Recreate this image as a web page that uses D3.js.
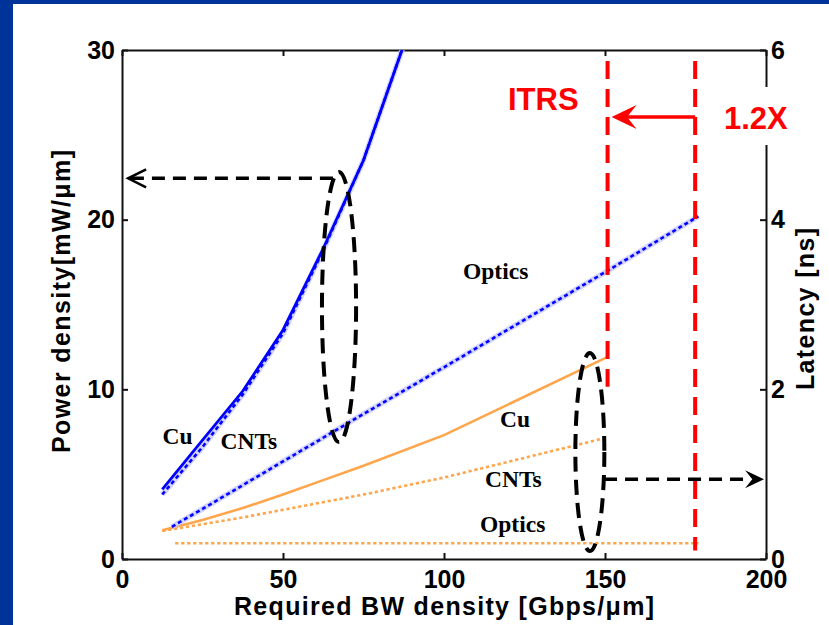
<!DOCTYPE html>
<html>
<head>
<meta charset="utf-8">
<script src="https://cdn.jsdelivr.net/npm/d3@7"></script>
<style>
  html, body { margin: 0; padding: 0; background: #fff; }
  svg { display: block; }
</style>
</head>
<body>
<svg id="chart" width="829" height="625"></svg>
<script>
// ---- data -------------------------------------------------------------
// Power density (left axis, mW/um) versus required bandwidth density (Gbps/um)
const bwPower      = [12.5, 25, 37.5, 50, 62.5, 75, 87.5];
const powerCu      = [4.1, 7.0, 9.9, 13.5, 18.3, 23.5, 30.3];
const powerCNT     = [3.8, 6.6, 9.7, 13.3, 18.2, 23.5, 30.3];
const bwPowerOpt   = [15.5, 25, 50, 75, 100, 125, 150, 179];
const powerOptics  = [1.9, 2.95, 5.75, 8.55, 11.3, 14.1, 16.9, 20.2];

// Latency (right axis, ns)
const bwLatency    = [12.5, 25, 37.5, 50, 62.5, 75, 100, 151];
const latencyCu    = [0.34, 0.46, 0.60, 0.76, 0.93, 1.10, 1.46, 2.385];
const latencyCNT   = [0.33, 0.41, 0.49, 0.58, 0.67, 0.76, 0.96, 1.435];
const bwLatencyOpt = [16.5, 179];
const latencyOpt   = [0.185, 0.185];

// Axis ticks
const xTicks  = [0, 50, 100, 150, 200];
const yLTicks = [0, 10, 20, 30];
const yRTicks = [0, 2, 4, 6];

// Bandwidth markers
const itrsBW   = 150.8;
const scaledBW = 178;

// ---- layout -----------------------------------------------------------
const svg = d3.select("#chart");
const W = 829, H = 625;
const plot = { left: 122, right: 766, top: 50, bottom: 559 };

const x  = d3.scaleLinear().domain([0, 200]).range([plot.left, plot.right]);
const yL = d3.scaleLinear().domain([0, 30]).range([plot.bottom, plot.top]);
const yR = d3.scaleLinear().domain([0, 6]).range([plot.bottom, plot.top]);

const BLUE = "#0000ff", ORANGE = "#ffa64d", RED = "#ff0000";
const SANS = "'Liberation Sans', Arial, Helvetica, sans-serif";
const SERIF = "'Liberation Serif', 'Times New Roman', serif";
const intFmt = d3.format("d");

// slide frame
svg.append("rect").attr("width", W).attr("height", H).attr("fill", "#fff");
svg.append("rect").attr("width", W).attr("height", 4).attr("fill", "#00339a");
svg.append("rect").attr("width", 13).attr("height", H).attr("fill", "#00339a");

svg.append("clipPath").attr("id", "plotClip").append("rect")
  .attr("x", plot.left).attr("y", plot.top)
  .attr("width", plot.right - plot.left).attr("height", plot.bottom - plot.top);

// ---- axes -------------------------------------------------------------
function styleAxis(g) {
  g.select(".domain").attr("stroke", "#111").attr("stroke-width", 2);
  g.selectAll(".tick line").attr("stroke", "#111").attr("stroke-width", 2);
  g.selectAll(".tick text")
    .attr("fill", "#000")
    .style("font-family", SANS).style("font-weight", "bold").style("font-size", "25px");
}

svg.append("g").attr("transform", `translate(0,${plot.bottom})`)
  .call(d3.axisBottom(x).tickValues(xTicks).tickFormat(intFmt).tickSize(-6).tickSizeOuter(0).tickPadding(11))
  .call(styleAxis);
svg.append("g").attr("transform", `translate(0,${plot.top})`)
  .call(d3.axisTop(x).tickValues(xTicks).tickSize(-6).tickSizeOuter(0).tickFormat(""))
  .call(styleAxis);
svg.append("g").attr("transform", `translate(${plot.left},0)`)
  .call(d3.axisLeft(yL).tickValues(yLTicks).tickFormat(intFmt).tickSize(-6).tickSizeOuter(0).tickPadding(7))
  .call(styleAxis);
svg.append("g").attr("transform", `translate(${plot.right},0)`)
  .call(d3.axisRight(yR).tickValues(yRTicks).tickFormat(intFmt).tickSize(-6).tickSizeOuter(0).tickPadding(5))
  .call(styleAxis);

// axis titles
svg.append("text")
  .attr("x", (plot.left + plot.right) / 2).attr("y", 615)
  .attr("text-anchor", "middle")
  .attr("textLength", 420).attr("lengthAdjust", "spacing")
  .style("font-family", SANS).style("font-weight", "bold").style("font-size", "25px")
  .text("Required BW density [Gbps/\u03bcm]");
svg.append("text")
  .attr("transform", "translate(70,301.5) rotate(-90)")
  .attr("text-anchor", "middle")
  .attr("textLength", 303).attr("lengthAdjust", "spacing")
  .style("font-family", SANS).style("font-weight", "bold").style("font-size", "25px")
  .text("Power density[mW/\u03bcm]");
svg.append("text")
  .attr("transform", "translate(814,309) rotate(-90)")
  .attr("text-anchor", "middle")
  .attr("textLength", 162).attr("lengthAdjust", "spacing")
  .style("font-family", SANS).style("font-weight", "bold").style("font-size", "25px")
  .text("Latency [ns]");

// ---- series -----------------------------------------------------------
const data = svg.append("g").attr("clip-path", "url(#plotClip)");
const zip = (xs, ys) => xs.map((v, i) => [v, ys[i]]);
const lineL = d3.line().x(d => x(d[0])).y(d => yL(d[1]));
const lineR = d3.line().x(d => x(d[0])).y(d => yR(d[1]));

function dotted(gen, pts, color, halo, dash) {
  if (halo) {
    data.append("path").attr("d", gen(pts)).attr("fill", "none")
      .attr("stroke", halo).attr("stroke-width", 5.5).attr("stroke-opacity", 0.75);
  }
  data.append("path").attr("d", gen(pts)).attr("fill", "none")
    .attr("stroke", color).attr("stroke-width", 2.6).attr("stroke-dasharray", dash);
}

// latency curves (right axis)
dotted(lineR, zip(bwLatencyOpt, latencyOpt), ORANGE, null, "3.3,2.7");
dotted(lineR, zip(bwLatency, latencyCNT), ORANGE, null, "3.3,2.7");
data.append("path").attr("d", lineR(zip(bwLatency, latencyCu))).attr("fill", "none")
  .attr("stroke", ORANGE).attr("stroke-width", 2.6);

// power curves (left axis)
dotted(lineL, zip(bwPowerOpt, powerOptics), BLUE, "#c4c4ff", "4,3");
dotted(lineL, zip(bwPower, powerCNT), BLUE, "#c4c4ff", "4,3");
data.append("path").attr("d", lineL(zip(bwPower, powerCu))).attr("fill", "none")
  .attr("stroke", BLUE).attr("stroke-width", 2.8);

// ---- series labels ----------------------------------------------------
const labels = [
  { t: "Cu",     x: 162.5, y: 443.5 },
  { t: "CNTs",   x: 220.5, y: 449 },
  { t: "Optics", x: 463,   y: 278.5 },
  { t: "Cu",     x: 500,   y: 427 },
  { t: "CNTs",   x: 485,   y: 487 },
  { t: "Optics", x: 480,   y: 532 }
];
svg.selectAll("text.series").data(labels).join("text")
  .attr("class", "series")
  .attr("x", d => d.x).attr("y", d => d.y)
  .style("font-family", SERIF).style("font-weight", "bold").style("font-size", "23.5px")
  .text(d => d.t);

// ---- annotations ------------------------------------------------------
function concaveHead(tip, dir, L, Wd) {
  const [tx, ty] = tip, [dx, dy] = dir, nx = -dy, ny = dx;
  const bx = tx - dx * L, by = ty - dy * L;
  const mx = tx - dx * L * 0.62, my = ty - dy * L * 0.62;
  return `M${tx},${ty}L${bx + nx * Wd},${by + ny * Wd}L${mx},${my}L${bx - nx * Wd},${by - ny * Wd}Z`;
}

// ITRS bandwidth and its 1.2X extension
svg.append("line")
  .attr("x1", x(itrsBW)).attr("x2", x(itrsBW))
  .attr("y1", 61).attr("y2", yR(2.03))
  .attr("stroke", RED).attr("stroke-width", 4).attr("stroke-dasharray", "18,10");
svg.append("line")
  .attr("x1", x(scaledBW)).attr("x2", x(scaledBW))
  .attr("y1", 61).attr("y2", yR(0.1))
  .attr("stroke", RED).attr("stroke-width", 4).attr("stroke-dasharray", "18,10");

const arrowY = yL(26.05);
svg.append("line")
  .attr("x1", x(scaledBW)).attr("x2", x(itrsBW) + 16)
  .attr("y1", arrowY).attr("y2", arrowY)
  .attr("stroke", RED).attr("stroke-width", 3.5);
svg.append("path").attr("d", concaveHead([x(itrsBW) + 4, arrowY], [-1, 0], 25, 12)).attr("fill", RED);

svg.append("text").attr("x", 508).attr("y", 110)
  .style("font-family", SANS).style("font-weight", "bold").style("font-size", "31px")
  .attr("fill", RED).text("ITRS");
svg.append("rect").attr("x", 718).attr("y", 87).attr("width", 82).attr("height", 58).attr("fill", "#fff");
svg.append("text").attr("x", 724).attr("y", 129)
  .style("font-family", SANS).style("font-weight", "bold").style("font-size", "31px")
  .attr("fill", RED).text("1.2X");

// grouping ellipses
const ellipses = [
  { cx: x(67.4),  cy: yL(14.85), rx: x(67.4) - x(62.1),   ry: yL(14.85) - yL(22.81) },
  { cx: x(145.3), cy: yR(1.26),  rx: x(145.3) - x(140.8), ry: yR(1.26) - yR(2.427) }
];
svg.selectAll("ellipse.group").data(ellipses).join("ellipse")
  .attr("class", "group")
  .attr("cx", d => d.cx).attr("cy", d => d.cy).attr("rx", d => d.rx).attr("ry", d => d.ry)
  .attr("fill", "none").attr("stroke", "#000").attr("stroke-width", 4)
  .attr("stroke-dasharray", "15,8");

// arrow to the power axis
const leftY = yL(22.44);
svg.append("line")
  .attr("x1", x(65.5)).attr("x2", x(1.9) + 2)
  .attr("y1", leftY).attr("y2", leftY)
  .attr("stroke", "#000").attr("stroke-width", 3.5).attr("stroke-dasharray", "13,8");
svg.append("path")
  .attr("d", `M${x(1.9) + 18},${leftY - 9}L${x(1.9)},${leftY}L${x(1.9) + 18},${leftY + 9}`)
  .attr("fill", "none").attr("stroke", "#000").attr("stroke-width", 2.5);

// arrow to the latency axis
const rightY = yR(0.94);
svg.append("line")
  .attr("x1", x(149.7)).attr("x2", x(199.4) - 16)
  .attr("y1", rightY).attr("y2", rightY)
  .attr("stroke", "#000").attr("stroke-width", 3.5).attr("stroke-dasharray", "13,8");
svg.append("path").attr("d", concaveHead([x(199.4), rightY], [1, 0], 19, 9)).attr("fill", "#000");
</script>
</body>
</html>
